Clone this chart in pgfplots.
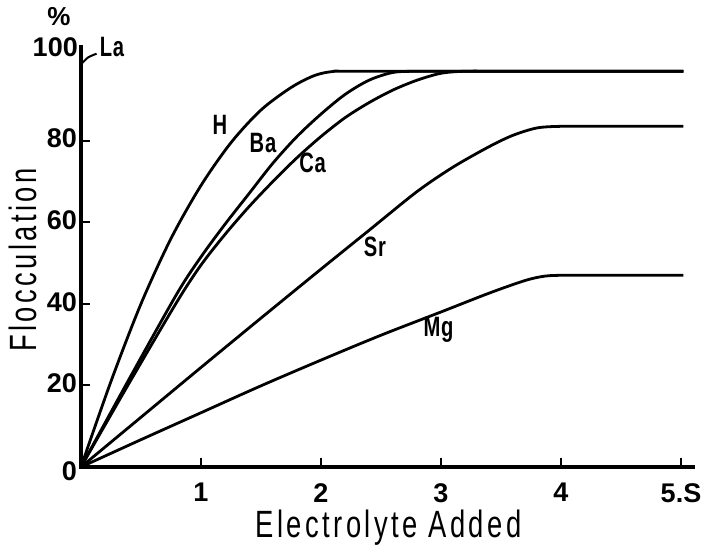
\documentclass[border=0pt]{standalone}
\usepackage{fontspec}
\setmainfont{Liberation Sans}
\newfontfamily\labfont{Liberation Sans}[FakeStretch=0.72,LetterSpace=9]
\newfontfamily\curvefont{Liberation Sans}[FakeStretch=0.72,LetterSpace=3]
\newfontfamily\tickfont{Liberation Sans}
\usepackage{pgfplots}
\pgfplotsset{compat=1.18}
\begin{document}
\begin{tikzpicture}
\begin{axis}[
  at={(0,0)}, anchor=south west, scale only axis,
  width=612pt, height=420.24pt,
  xmin=0, xmax=5.1, ymin=0, ymax=103,
  axis x line=bottom, axis y line=left,
  axis line style={-, line width=3.4pt, line cap=rect},
  tick align=inside, major tick length=9pt,
  tick style={line width=2pt, black},
  xtick={1,2,3,4,5}, xticklabels={1,2,3,4,5.S},
  ytick={20,40,60,80}, yticklabels={20,40,60,80},
  /pgf/number format/assume math mode=true,
  ticklabel style={font=\tickfont\bfseries\fontsize{27}{27}\selectfont, inner sep=0pt},
  xticklabel style={anchor=north, yshift=-16pt},
  yticklabel style={anchor=east, xshift=-4pt, yshift=2pt},
  clip=false,
  every axis plot/.append style={line width=2.8pt, black, no markers},
]
% H
\addplot[smooth, tension=0.5] coordinates {(0,0) (0.25,21) (0.5,40) (0.75,56) (1.0,69) (1.25,79.5) (1.5,87.5) (1.75,93) (1.95,96) (2.12,97) (2.35,97) (5.02,97)};
% Ba
\addplot[smooth, tension=0.5] coordinates {(0,0) (0.4,21.5) (0.8,42.5) (1.0,51.5) (1.2,59.5) (1.4,67) (1.6,74.5) (1.8,81) (2.0,86.5) (2.2,91.3) (2.4,94.8) (2.6,96.7) (2.8,97) (3.1,97) (5.02,97)};
% Ca
\addplot[smooth, tension=0.5] coordinates {(0,0) (0.4,20.5) (0.8,40.5) (1.0,49.5) (1.2,57) (1.4,63.8) (1.6,70) (1.8,75.8) (2.0,81) (2.2,85.6) (2.4,89.3) (2.6,92.4) (2.8,94.8) (3.0,96.5) (3.2,97) (3.5,97) (5.02,97)};
% Sr
\addplot[smooth, tension=0.5] coordinates {(0,0) (0.5,12.2) (1,24.4) (1.5,36.5) (2,48.5) (2.4,58) (2.8,67.5) (3.1,73.5) (3.4,78.5) (3.6,81.3) (3.8,83.1) (4.0,83.5) (4.3,83.5) (5.02,83.5)};
% Mg
\addplot[smooth, tension=0.5] coordinates {(0,0) (0.5,6.7) (1,13.3) (1.5,19.9) (2,26.2) (2.5,32.3) (3,38) (3.4,42.6) (3.7,45.7) (3.87,46.8) (4.05,47) (4.4,47) (5.02,47)};
% La hook
\addplot[smooth, line width=2pt] coordinates {(0.01,99) (0.06,100.4) (0.13,101.3)};

\node[anchor=base, inner sep=0pt, font=\curvefont\bfseries\fontsize{28}{28}\selectfont] at (axis cs:1.158,81.4) {H};
\node[anchor=base, inner sep=0pt, font=\curvefont\bfseries\fontsize{28}{28}\selectfont] at (axis cs:1.517,77.0) {Ba};
\node[anchor=base, inner sep=0pt, font=\curvefont\bfseries\fontsize{28}{28}\selectfont] at (axis cs:1.93,72.1) {Ca};
\node[anchor=base, inner sep=0pt, font=\curvefont\bfseries\fontsize{28}{28}\selectfont] at (axis cs:2.45,51.5) {Sr};
\node[anchor=base, inner sep=0pt, font=\curvefont\bfseries\fontsize{28}{28}\selectfont] at (axis cs:2.98,31.9) {Mg};
\node[anchor=base, inner sep=0pt, font=\curvefont\bfseries\fontsize{28}{28}\selectfont] at (axis cs:0.258,100.5) {La};
\node[anchor=base east, inner sep=0pt, font=\tickfont\bfseries\fontsize{27}{27}\selectfont] at (axis cs:-0.025,100.5) {100};
\node[anchor=east, inner sep=0pt, font=\tickfont\bfseries\fontsize{27}{27}\selectfont] at (axis cs:-0.033,-1) {0};
\node[inner sep=0pt, font=\tickfont\bfseries\fontsize{26}{26}\selectfont] at (axis cs:-0.183,110.3) {\%};
\node[anchor=base, inner sep=0pt, font=\labfont\fontsize{38}{38}\selectfont] at (axis cs:2.5625,-17.2) {Electrolyte Added};
\node[anchor=base, rotate=90, inner sep=0pt, font=\labfont\fontsize{38}{38}\selectfont] at (axis cs:-0.367,50.7) {Flocculation};
\end{axis}
\path[use as bounding box] (-81pt,-85pt) rectangle (628pt,467pt);
\end{tikzpicture}
\end{document}
